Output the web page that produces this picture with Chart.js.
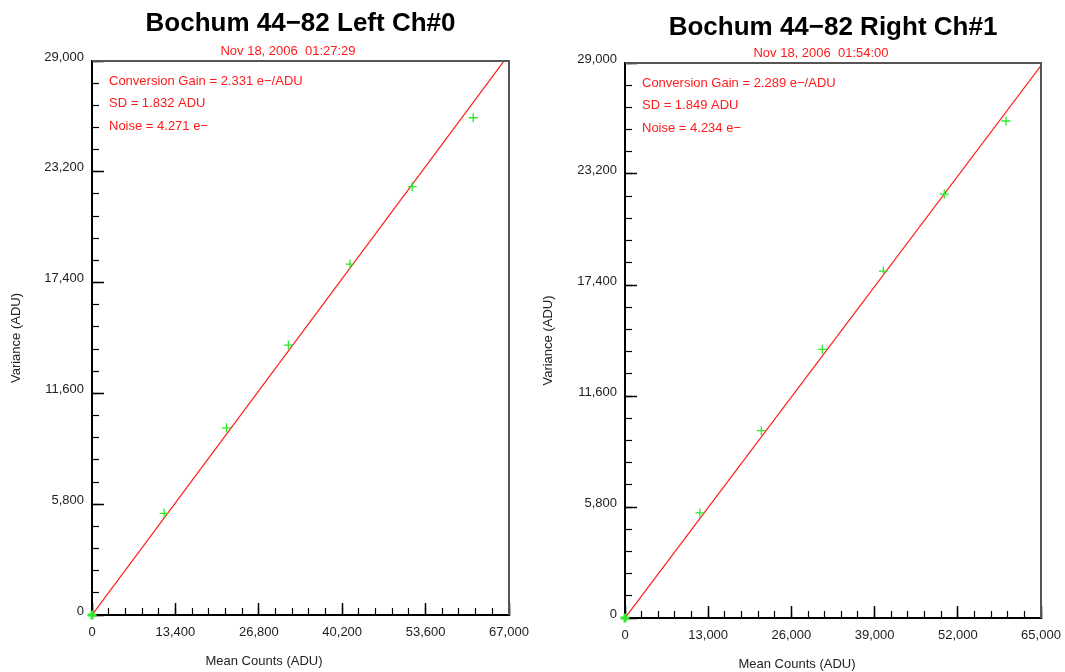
<!DOCTYPE html>
<html>
<head>
<meta charset="utf-8">
<script src="https://cdn.jsdelivr.net/npm/chart.js@4.4.0/dist/chart.umd.min.js"></script>
<style>
  body { margin: 0; background: #fff; overflow: hidden; }
  #leftBox { position: absolute; left: 0; top: 0; width: 532px; height: 672px; }
  #rightBox { position: absolute; left: 532px; top: 0; width: 533px; height: 672px; }
</style>
</head>
<body>
<div id="leftBox"><canvas id="leftChart" width="532" height="672"></canvas></div>
<div id="rightBox"><canvas id="rightChart" width="533" height="672"></canvas></div>
<script>
// left channel (Ch#0)
var leftMean = [0, 11600, 21600, 31550, 41450, 51450, 61250];
var leftVar = [0, 5320, 9800, 14130, 18370, 22420, 26030];
var leftFitX = [0, 67000];
var leftFitY = [0, 29350];
var leftXTicks = [0, 13400, 26800, 40200, 53600, 67000];
var leftNotes = ['Conversion Gain = 2.331 e\u2212/ADU', 'SD = 1.832 ADU', 'Noise = 4.271 e\u2212'];

// right channel (Ch#1)
var rightMean = [0, 11700, 21300, 30830, 40360, 49890, 59530];
var rightVar = [0, 5490, 9790, 14040, 18130, 22150, 25970];
var rightFitX = [0, 65000];
var rightFitY = [0, 28870];
var rightXTicks = [0, 13000, 26000, 39000, 52000, 65000];
var rightNotes = ['Conversion Gain = 2.289 e\u2212/ADU', 'SD = 1.849 ADU', 'Noise = 4.234 e\u2212'];

var yTicks = [0, 5800, 11600, 17400, 23200, 29000];

var FONT = "'Liberation Sans', Arial, sans-serif";

function pts(xs, ys) {
  return xs.map(function (x, i) { return { x: x, y: ys[i] }; });
}

// frame + red notes + axis titles
var textPlugin = {
  id: 'texts',
  afterDraw: function (chart, args, o) {
    var ctx = chart.ctx, a = chart.chartArea;
    ctx.save();
    ctx.strokeStyle = '#555';
    ctx.lineWidth = 2;
    ctx.beginPath();
    ctx.moveTo(a.left, a.top);
    ctx.lineTo(a.right, a.top);
    ctx.lineTo(a.right, a.bottom);
    ctx.stroke();

    ctx.font = '13px ' + FONT;
    ctx.fillStyle = '#ff1a1a';
    ctx.textAlign = 'center';
    ctx.textBaseline = 'middle';
    ctx.fillText(o.date, a.left + 196, a.top - 10);
    ctx.textAlign = 'left';
    o.notes.forEach(function (t, i) {
      ctx.fillText(t, a.left + 17, a.top + 20 + i * 22.8);
    });

    ctx.fillStyle = '#222';
    ctx.textAlign = 'center';
    ctx.fillText(o.xTitle, a.left + 172, a.bottom + 46);
    ctx.translate(16, (a.top + a.bottom) / 2);
    ctx.rotate(-Math.PI / 2);
    ctx.fillText(o.yTitle, 0, 0);
    ctx.restore();
  }
};

function makeChart(id, cfg) {
  var xStep = cfg.xTicks[1], xMax = cfg.xTicks[cfg.xTicks.length - 1];
  var yStep = yTicks[1], yMax = yTicks[yTicks.length - 1];
  var tickFont = { size: 13, family: FONT };
  var fmt = function (v) { return v.toLocaleString('en-US'); };
  var noPad = function (s) { s.paddingLeft = 0; s.paddingRight = 0; s.paddingTop = 0; s.paddingBottom = 0; };

  return new Chart(document.getElementById(id), {
    type: 'scatter',
    data: {
      datasets: [{
        data: pts(cfg.mean, cfg.variance),
        pointStyle: 'cross',
        pointRadius: 4.5,
        pointBorderColor: '#2ee82e',
        pointBorderWidth: function (c) { return c.dataIndex === 0 ? 3 : 1.3; },
        showLine: false,
        clip: false
      }, {
        type: 'line',
        data: pts(cfg.fitX, cfg.fitY),
        borderColor: '#ff1a1a',
        borderWidth: 1.2,
        pointRadius: 0,
        fill: false
      }]
    },
    options: {
      responsive: false,
      animation: false,
      layout: { padding: { left: 0, right: cfg.padRight, top: 0, bottom: 0 } },
      plugins: {
        legend: { display: false },
        tooltip: { enabled: false },
        title: {
          display: true,
          text: cfg.title,
          fullSize: false,
          color: '#000',
          font: { size: 26, weight: 'bold', family: FONT },
          padding: { top: cfg.titleTop, bottom: cfg.titleBottom }
        },
        texts: { date: cfg.date, notes: cfg.notes, xTitle: 'Mean Counts (ADU)', yTitle: 'Variance (ADU)' }
      },
      scales: {
        x: {
          type: 'linear', position: 'bottom', min: 0, max: xMax, weight: 1,
          ticks: { stepSize: xStep, padding: 22, color: '#222', font: tickFont, maxRotation: 0, autoSkip: false, callback: fmt },
          grid: { drawOnChartArea: false, tickLength: -12, tickColor: '#000', tickWidth: 1.5 },
          border: { color: '#000', width: 2 },
          afterFit: function (s) { s.height = cfg.xHeight; noPad(s); }
        },
        xMinor: {
          type: 'linear', position: 'bottom', min: 0, max: xMax, weight: 0,
          ticks: { stepSize: xStep / 5, display: false },
          grid: { drawOnChartArea: false, tickLength: -7, tickColor: '#000', tickWidth: 1.2 },
          border: { display: false },
          afterFit: function (s) { s.height = 0; noPad(s); }
        },
        y: {
          type: 'linear', position: 'left', min: 0, max: yMax, weight: 1,
          ticks: { stepSize: yStep, padding: 20, color: '#222', font: tickFont, labelOffset: -4, callback: fmt },
          grid: { drawOnChartArea: false, tickLength: -12, tickColor: '#000', tickWidth: 1.5 },
          border: { color: '#000', width: 2 },
          afterFit: function (s) { s.width = cfg.yWidth; noPad(s); }
        },
        yMinor: {
          type: 'linear', position: 'left', min: 0, max: yMax, weight: 0,
          ticks: { stepSize: yStep / 5, display: false },
          grid: { drawOnChartArea: false, tickLength: -7, tickColor: '#000', tickWidth: 1.2 },
          border: { display: false },
          afterFit: function (s) { s.width = 0; noPad(s); }
        }
      }
    },
    plugins: [textPlugin]
  });
}

makeChart('leftChart', {
  title: 'Bochum 44\u221282 Left Ch#0',
  date: 'Nov 18, 2006  01:27:29',
  notes: leftNotes,
  mean: leftMean, variance: leftVar,
  fitX: leftFitX, fitY: leftFitY,
  xTicks: leftXTicks,
  yWidth: 92, xHeight: 57, padRight: 23,
  titleTop: 8, titleBottom: 21.8
});

makeChart('rightChart', {
  title: 'Bochum 44\u221282 Right Ch#1',
  date: 'Nov 18, 2006  01:54:00',
  notes: rightNotes,
  mean: rightMean, variance: rightVar,
  fitX: rightFitX, fitY: rightFitY,
  xTicks: rightXTicks,
  yWidth: 93, xHeight: 54, padRight: 24,
  titleTop: 12.2, titleBottom: 19.6
});
</script>
</body>
</html>
